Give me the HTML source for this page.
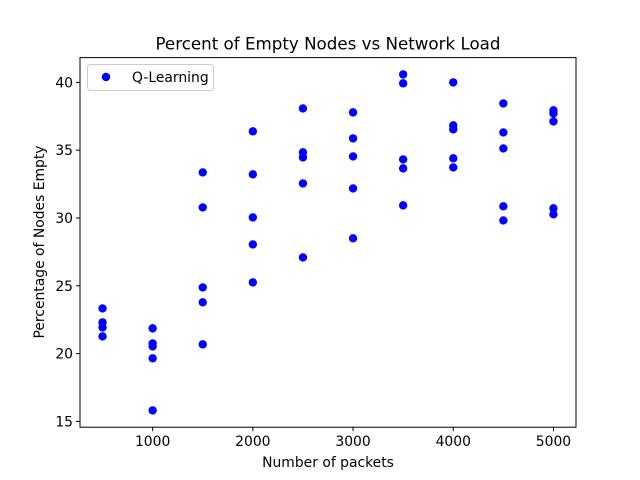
<!DOCTYPE html>
<html><head><meta charset="utf-8"><style>
html,body{margin:0;padding:0;background:#fff;}
svg{display:block;font-family:"DejaVu Sans","Liberation Sans",sans-serif;}
</style></head><body>
<svg id="chart" width="640" height="480" viewBox="0 0 640 480">
<rect x="0" y="0" width="640" height="480" fill="#fff"/>
<text x="328" y="49.5" text-anchor="middle" font-size="16.7" fill="#000">Percent of Empty Nodes vs Network Load</text>
<g id="xticks"></g>
<g id="yticks"></g>
<g id="points"></g>
<rect x="80" y="57.6" width="496" height="369.6" fill="none" stroke="#000" stroke-width="1"/>
<text x="328" y="467" text-anchor="middle" font-size="13.9" fill="#000">Number of packets</text>
<text x="0" y="0" transform="translate(44,242) rotate(-90)" text-anchor="middle" font-size="13.9" fill="#000">Percentage of Nodes Empty</text>
<g>
<rect x="87.5" y="64.5" width="126" height="26" rx="3" fill="#fff" stroke="#ccc"/>
<circle cx="106" cy="77" r="4.2" fill="#0000ff"/>
<text x="132" y="82" font-size="13.9" fill="#000">Q-Learning</text>
</g>
</svg>
<script>
const xValues = [500,500,500,500, 1000,1000,1000,1000,1000, 1500,1500,1500,1500,1500, 2000,2000,2000,2000,2000, 2500,2500,2500,2500,2500, 3000,3000,3000,3000,3000, 3500,3500,3500,3500,3500, 4000,4000,4000,4000,4000, 4500,4500,4500,4500,4500, 5000,5000,5000,5000,5000];
const yValues = [23.33,22.3,21.93,21.27, 21.86,20.75,20.53,19.65,15.81, 33.36,30.78,24.88,23.78,20.68, 36.39,33.22,30.04,28.05,25.25, 38.08,34.84,34.47,32.55,27.09, 37.79,35.87,34.54,32.18,28.5, 40.59,39.93,34.32,33.66,30.93, 40.0,36.83,36.53,34.4,33.73, 38.45,36.31,35.13,30.86,29.82, 37.94,37.71,37.12,30.71,30.27];
const xTickValues = [1000,2000,3000,4000,5000];
const yTickValues = [15,20,25,30,35,40];

const NS = "http://www.w3.org/2000/svg";
const L=80,R=576,T=57.6,B=427.2;
const xmin=Math.min(...xValues), xmax=Math.max(...xValues);
const ymin=Math.min(...yValues), ymax=Math.max(...yValues);
const xpad=(xmax-xmin)*0.05, ypad=(ymax-ymin)*0.05;
const x0=xmin-xpad,x1=xmax+xpad,y0=ymin-ypad,y1=ymax+ypad;
function sx(v){return L+(v-x0)/(x1-x0)*(R-L);}
function sy(v){return B-(v-y0)/(y1-y0)*(B-T);}
function mk(tag,attrs){const e=document.createElementNS(NS,tag);for(const k in attrs)e.setAttribute(k,attrs[k]);return e;}

const gx=document.getElementById('xticks');
xTickValues.forEach(v=>{
  const x=sx(v);
  const ln=mk('line',{x1:x,x2:x,y1:B,y2:B+4,stroke:'#000'});
  
  
  gx.appendChild(ln);
  const t=mk('text',{x:x,y:B+19,'text-anchor':'middle','font-size':'13.9',fill:'#000'});
  t.textContent=v;
  
  
  gx.appendChild(t);
});
const gy=document.getElementById('yticks');
yTickValues.forEach(v=>{
  const y=sy(v);
  const ln=mk('line',{x1:L-4,x2:L,y1:y,y2:y,stroke:'#000'});
  
  
  gy.appendChild(ln);
  const t=mk('text',{x:L-7,y:y+5,'text-anchor':'end','font-size':'13.9',fill:'#000'});
  t.textContent=v;
  
  
  gy.appendChild(t);
});
const gp=document.getElementById('points');
xValues.forEach((v,i)=>{
  const c=mk('circle',{cx:sx(v),cy:sy(yValues[i]),r:4.2,fill:'#0000ff'});
  
  
  gp.appendChild(c);
});
</script>
</body></html>
